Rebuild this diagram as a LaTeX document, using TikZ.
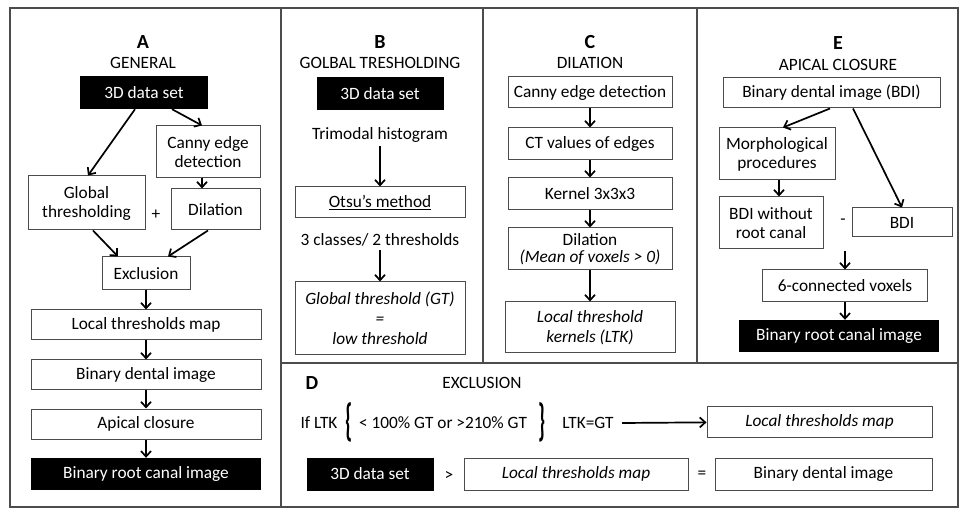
\documentclass[tikz,border=0pt]{standalone}
\usepackage{fontspec}
\setmainfont{Carlito}
\usetikzlibrary{arrows.meta}

\begin{document}
\begin{tikzpicture}[x=1pt,y=-1pt,
  font=\fontsize{17.3}{19}\selectfont,
  box/.style={draw=black!70,line width=1pt,fill=white,align=center,inner sep=0pt},
  blk/.style={fill=black,text=white,align=center,inner sep=0pt},
  sz/.style 2 args={minimum width=#1pt,minimum height=#2pt},
  ttl/.style={font=\fontsize{20}{22}\selectfont\bfseries},
  brc/.style={inner sep=0pt,font=\fontsize{17.3}{19}\selectfont\bfseries},
  arr/.style={-{Straight Barb[length=5.5pt,width=10pt]},line width=1.7pt},
  frm/.style={draw=black!70,line width=1.4pt}]

\useasboundingbox (0,0) rectangle (961,510);

% frame and panel borders
\draw[frm] (10,8) rectangle (958,507);
\draw[frm] (281,8) -- (281,507);
\draw[frm] (483,8) -- (483,363);
\draw[frm] (697,8) -- (697,363);
\draw[frm] (281,363) -- (958,363);

% A: general
\node[ttl] (tA) at (143,42) {A};
\node (gA) at (143,63) {GENERAL};
\node[blk,sz={128}{33}] (dA) at (144,92.5) {3D data set};
\node[box,sz={104}{52}] (cA) at (208,152) {Canny edge\\detection};
\node[box,sz={117}{54}] (gtA) at (86.5,203) {Global\\thresholding};
\node (plA) at (156,215) {+};
\node[box,sz={89}{41}] (dlA) at (215.5,209.5) {Dilation};
\node[box,sz={88}{33}] (exA) at (146,273.5) {Exclusion};
\node[box,sz={230}{30}] (ltA) at (146,325) {Local thresholds map};
\node[box,sz={230}{30}] (bdA) at (146,375) {Binary dental image};
\node[box,sz={230}{30}] (acA) at (146,424) {Apical closure};
\node[blk,sz={230}{32}] (brA) at (146,474) {Binary root canal image};

\draw[arr] ([xshift=-9pt]dA.south) -- ([xshift=1.5pt]gtA.north);
\draw[arr] ([xshift=28pt]dA.south) -- ([xshift=-6pt]cA.north);
\draw[arr] ([xshift=-6pt]cA.south) -- ([xshift=-6pt]cA.south |- dlA.north);
\draw[arr] ([xshift=6.5pt]gtA.south) -- ([xshift=-28pt]exA.north);
\draw[arr] ([xshift=-7.5pt]dlA.south) -- ([xshift=22pt]exA.north);
\draw[arr] (exA) -- (ltA);
\draw[arr] (ltA) -- (bdA);
\draw[arr] (bdA) -- (acA);
\draw[arr] (acA) -- (brA);

% B: global thresholding
\node[ttl] (tB) at (380,42) {B};
\node (gB) at (380,63) {GOLBAL TRESHOLDING};
\node[blk,sz={127}{33}] (dB) at (380,93.5) {3D data set};
\node (tmB) at (380,135) {Trimodal histogram};
\node[box,sz={170}{31}] (otB) at (380,202.5) {\underline{Otsu’s method}};
\node (clB) at (380,240) {3 classes/ 2 thresholds};
\node[box,sz={170}{73},font=\fontsize{17.3}{20}\selectfont\itshape] (gtB) at (380,318.5)
  {Global threshold (GT)\\=\\low threshold};

\draw[arr] (tmB) -- (otB);
\draw[arr] (clB) -- (gtB);

% C: dilation
\node[ttl] (tC) at (590,42) {C};
\node (gC) at (590,63) {DILATION};
\node[box,sz={164}{31}] (ceC) at (590,92.5) {Canny edge detection};
\node[box,sz={164}{32}] (ctC) at (590,144) {CT values of edges};
\node[box,sz={164}{32}] (kC) at (590,194) {Kernel 3x3x3};
\node[box,sz={164}{42},font=\fontsize{17.3}{17}\selectfont] (diC) at (590,249)
  {Dilation\\\textit{(Mean of voxels > 0)}};
\node[box,sz={170}{51},font=\fontsize{17.3}{20}\selectfont\itshape] (ltkC) at (590,327.5)
  {Local threshold\\kernels (LTK)};

\draw[arr] (ceC) -- (ctC);
\draw[arr] (ctC) -- (kC);
\draw[arr] (kC) -- (diC);
\draw[arr] (diC) -- (ltkC);

% E: apical closure
\node[ttl] (tE) at (838,43) {E};
\node (gE) at (838,65) {APICAL CLOSURE};
\node[box,sz={217}{30}] (bdE) at (831.5,93) {Binary dental image (BDI)};
\node[box,sz={116}{52}] (mpE) at (777,154) {Morphological\\procedures};
\node[box,sz={104}{52}] (bwE) at (771,223) {BDI without\\root canal};
\node (miE) at (843,222) {-};
\node[box,sz={100}{29}] (bE) at (902,222.5) {BDI};
\node[box,sz={165}{32}] (cvE) at (845,286) {6-connected voxels};
\node[blk,sz={200}{32}] (brE) at (839,336) {Binary root canal image};
\coordinate (sE) at (845,251);

\draw[arr] ([xshift=-1.5pt]bdE.south) -- ([xshift=6pt]mpE.north);
\draw[arr] ([xshift=21.5pt]bdE.south) -- (bE.north);
\draw[arr] ([xshift=2pt]mpE.south) -- ([xshift=2pt]mpE.south |- bwE.north);
\draw[arr] (sE) -- (sE |- cvE.north);
\draw[arr] (cvE.south) -- (cvE.south |- brE.north);

% D: exclusion
\node[ttl] (tD) at (312,383) {D};
\node (xD) at (482,383) {EXCLUSION};
\node (ifD) at (319,423) {If LTK};
\node[brc] (blD) at (349,422) {\scalebox{1.2}[2.6]{\{}};
\node (cD) at (443,423) {< 100\% GT or >210\% GT};
\node[brc] (brD) at (542,422) {\scalebox{1.2}[2.6]{\}}};
\node (eqD) at (588,423) {LTK=GT};
\node[box,sz={225}{31},font=\fontsize{17.3}{19}\selectfont\itshape] (ltD) at (819.5,421.5) {Local thresholds map};
\node[blk,sz={127}{33}] (dD) at (370,474) {3D data set};
\node (gtD) at (449,476) {>};
\node[box,sz={224}{32},font=\fontsize{17.3}{19}\selectfont\itshape] (lmD) at (576,474) {Local thresholds map};
\node (eD) at (702,475) {=};
\node[box,sz={217}{32}] (bdD) at (823.5,474) {Binary dental image};

\draw[arr] ([xshift=5pt]eqD.east) -- (ltD);

\end{tikzpicture}
\end{document}
